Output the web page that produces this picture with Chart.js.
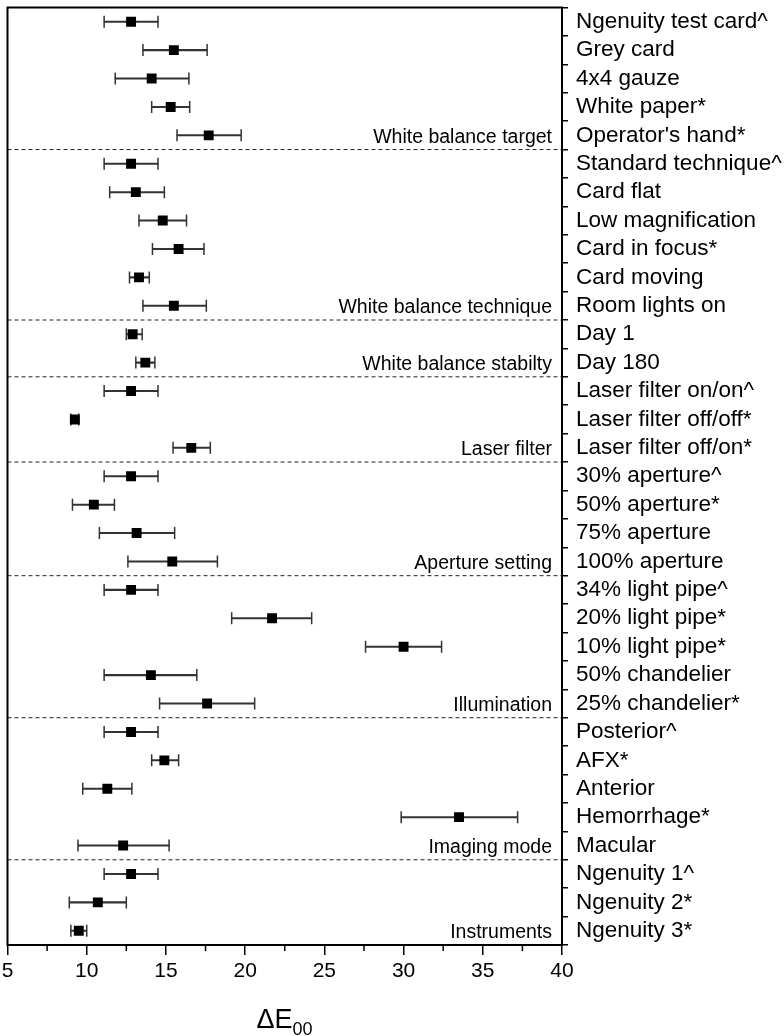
<!DOCTYPE html>
<html>
<head>
<meta charset="utf-8">
<script src="https://cdn.jsdelivr.net/npm/chart.js@4.4.1/dist/chart.umd.min.js"></script>
<style>
  html, body { margin: 0; padding: 0; background: #fff; }
  #wrap { position: relative; width: 784px; height: 1036px; }
  #axisTitle {
    position: absolute; left: 7px; width: 555px; top: 1004px;
    text-align: center; font-family: "Liberation Sans", Arial, sans-serif;
    font-size: 27px; line-height: 30px; color: #000;
  }
  #axisTitle sub { font-size: 18px; vertical-align: -7px; line-height: 0; }
</style>
</head>
<body>
<div id="wrap">
  <canvas id="forestChart" width="784" height="1036"></canvas>
  <div id="axisTitle">ΔE<sub>00</sub></div>
</div>
<script>
const labels = [
	"Ngenuity test card^", "Grey card", "4x4 gauze", "White paper*", "Operator's hand*",
	"Standard technique^", "Card flat", "Low magnification", "Card in focus*", "Card moving", "Room lights on",
	"Day 1", "Day 180",
	"Laser filter on/on^", "Laser filter off/off*", "Laser filter off/on*",
	"30% aperture^", "50% aperture*", "75% aperture", "100% aperture",
	"34% light pipe^", "20% light pipe*", "10% light pipe*", "50% chandelier", "25% chandelier*",
	"Posterior^", "AFX*", "Anterior", "Hemorrhage*", "Macular",
	"Ngenuity 1^", "Ngenuity 2*", "Ngenuity 3*",
];
const means = [
	12.8, 15.5, 14.1, 15.3, 17.7,
	12.8, 13.1, 14.8, 15.8, 13.3, 15.5,
	12.9, 13.7,
	12.8, 9.25, 16.6,
	12.8, 10.45, 13.15, 15.4,
	12.8, 21.7, 30.0, 14.05, 17.6,
	12.8, 14.9, 11.3, 33.5, 12.3,
	12.8, 10.7, 9.5,
];
const lower = [
	11.1, 13.55, 11.8, 14.1, 15.7,
	11.1, 11.45, 13.3, 14.15, 12.7, 13.55,
	12.5, 13.1,
	11.1, 9.0, 15.45,
	11.1, 9.1, 10.8, 12.6,
	11.1, 19.15, 27.6, 11.1, 14.6,
	11.1, 14.1, 9.75, 29.85, 9.45,
	11.1, 8.9, 9.0,
];
const upper = [
	14.5, 17.6, 16.45, 16.5, 19.75,
	14.5, 14.9, 16.3, 17.4, 13.95, 17.55,
	13.5, 14.3,
	14.5, 9.5, 17.8,
	14.5, 11.75, 15.55, 18.25,
	14.5, 24.2, 32.4, 16.95, 20.6,
	14.5, 15.8, 12.85, 37.2, 15.2,
	14.5, 12.5, 10.0,
];
const groupNames = [
	"White balance target", "White balance technique", "White balance stabilty",
	"Laser filter", "Aperture setting", "Illumination", "Imaging mode", "Instruments",
];
const groupSizes = [5, 6, 2, 3, 4, 5, 5, 3];
const xTicks = [5, 10, 15, 20, 25, 30, 35, 40];

const FONT = "'Liberation Sans', Arial, sans-serif";

// frame, minor ticks, group separators and group names
const decorPlugin = {
	id: "decor",
	afterDraw(chart) {
		const { ctx, chartArea: a, scales } = chart;
		const x = scales.x, y = scales.y;
		const band = y.getPixelForValue(1) - y.getPixelForValue(0);
		ctx.save();

		let row = 0;
		groupSizes.forEach((n, g) => {
			row += n;
			const yb = y.getPixelForValue(row - 1) + band / 2;
			if (row < labels.length) {
				ctx.strokeStyle = "#222";
				ctx.lineWidth = 1;
				ctx.setLineDash([4, 3]);
				ctx.beginPath();
				ctx.moveTo(a.left, yb);
				ctx.lineTo(a.right, yb);
				ctx.stroke();
				ctx.setLineDash([]);
			}
			ctx.fillStyle = "#000";
			ctx.font = "19.5px " + FONT;
			ctx.textAlign = "right";
			ctx.textBaseline = "alphabetic";
			ctx.fillText(groupNames[g], a.right - 10, yb - 7);
		});

		// minor ticks on the x axis
		ctx.strokeStyle = "#000";
		ctx.lineWidth = 1.5;
		for (let i = 0; i < xTicks.length - 1; i++) {
			const px = x.getPixelForValue((xTicks[i] + xTicks[i + 1]) / 2);
			ctx.beginPath();
			ctx.moveTo(px, a.bottom);
			ctx.lineTo(px, a.bottom + 6);
			ctx.stroke();
		}

		// plot frame
		ctx.lineWidth = 2;
		ctx.strokeRect(a.left, a.top, a.right - a.left, a.bottom - a.top);
		ctx.restore();
	},
};

const ctx = document.getElementById("forestChart").getContext("2d");

const forestChart = new Chart(ctx, {
	type: "bar",
	data: {
		labels: labels,
		datasets: [
			{
				type: "line",
				data: means.map((v, i) => ({ x: v, y: labels[i] })),
				showLine: false,
				pointStyle: "rect",
				pointRadius: 7,
				pointBackgroundColor: "#000",
				pointBorderColor: "#000",
				pointBorderWidth: 0,
				order: 0,
			},
			{
				type: "line",
				data: lower.map((v, i) => ({ x: v, y: labels[i] }))
					.concat(upper.map((v, i) => ({ x: v, y: labels[i] }))),
				showLine: false,
				pointStyle: "line",
				pointRotation: 90,
				pointRadius: 6,
				pointBorderColor: "#333",
				pointBorderWidth: 1.5,
				order: 1,
			},
			{
				data: lower.map((v, i) => [v, upper[i]]),
				backgroundColor: "#333",
				barThickness: 1.4,
				order: 2,
			},
		],
	},
	options: {
		indexAxis: "y",
		responsive: false,
		animation: false,
		layout: { padding: { left: 7, top: 2, right: 0, bottom: 0 } },
		plugins: {
			legend: { display: false },
			tooltip: { enabled: false },
		},
		scales: {
			x: {
				type: "linear",
				position: "bottom",
				min: 5,
				max: 40,
				ticks: {
					stepSize: 5,
					color: "#000",
					padding: 4,
					font: { family: FONT, size: 21 },
				},
				grid: { drawOnChartArea: false, tickLength: 10, color: "#000", lineWidth: 1.5 },
				border: { color: "#000", width: 2 },
				afterFit: (s) => { s.height = 91; s.paddingLeft = 0; s.paddingRight = 0; },
			},
			y: {
				type: "category",
				position: "right",
				offset: true,
				ticks: {
					color: "#000",
					padding: 8,
					autoSkip: false,
					font: { family: FONT, size: 22.5 },
				},
				grid: { offset: true, drawOnChartArea: false, tickLength: 6, color: "#000", lineWidth: 1.5 },
				border: { color: "#000", width: 2 },
				afterFit: (s) => { s.width = 222; s.paddingTop = 0; s.paddingBottom = 0; },
			},
		},
	},
	plugins: [decorPlugin],
});
</script>
</body>
</html>
